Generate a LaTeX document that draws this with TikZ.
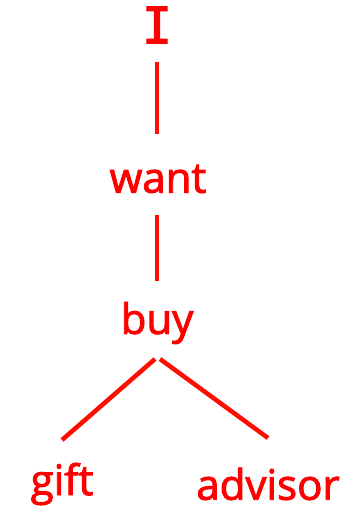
\documentclass[tikz,border=0pt]{standalone}
\usepackage{fontspec}
\setmainfont{Open Sans}[UprightFeatures={FakeBold=2.2}]
\newfontfamily\barfont{DejaVu Sans Mono}[UprightFeatures={FakeBold=2.2}]

\begin{document}
\begin{tikzpicture}[x=1pt, y=1pt, line width=4.5pt,
  word/.style={text=red, font=\fontsize{42}{48}\selectfont, inner sep=0pt},
  edge/.style={draw=red!95!yellow}]
  \useasboundingbox (0,0) rectangle (363,510);
  % words
  \node[word] (I) at (157,485) {\barfont\fontsize{50}{56}\selectfont I};
  \node[word] (want) at (158,331) {want};
  \node[word] (buy) at (157,187) {buy};
  \node[word] (gift) at (62,26) {gift};
  \node[word] (advisor) at (268,26) {advisor};
  % edges
  \draw[edge] ([yshift=-37pt]I.center) -- ([yshift=45pt,xshift=-1pt]want.center);
  \draw[edge] ([yshift=-36pt,xshift=-1pt]want.center) -- ([yshift=42pt]buy.center);
  \draw[edge] ([yshift=-36pt,xshift=-2pt]buy.center) -- ([yshift=44pt]gift.center);
  \draw[edge] ([yshift=-36pt,xshift=3pt]buy.center) -- ([yshift=46pt]advisor.center);
\end{tikzpicture}
\end{document}
